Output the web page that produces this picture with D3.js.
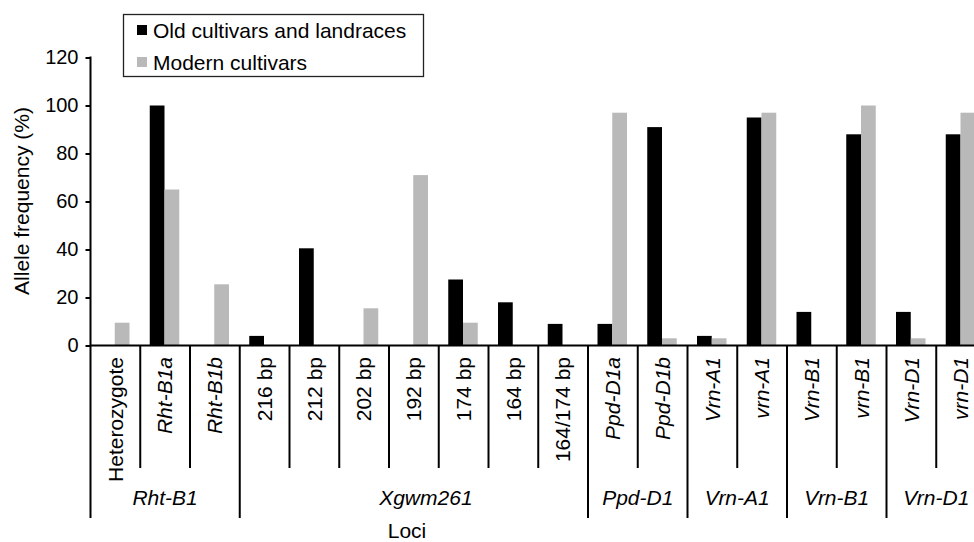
<!DOCTYPE html>
<html>
<head>
<meta charset="utf-8">
<script src="https://cdn.jsdelivr.net/npm/d3@7"></script>
<style>
  body { margin: 0; background: #fff; }
  svg { display: block; font-family: "Liberation Sans", Arial, sans-serif; }
</style>
</head>
<body>
<div id="chart-area"></div>
<script>
// Data
// ****
const categories = ["Heterozygote", "Rht-B1a", "Rht-B1b", "216 bp", "212 bp", "202 bp", "192 bp", "174 bp",
  "164 bp", "164/174 bp", "Ppd-D1a", "Ppd-D1b", "Vrn-A1", "vrn-A1", "Vrn-B1", "vrn-B1", "Vrn-D1", "vrn-D1"]
const italicCats = ["Rht-B1a", "Rht-B1b", "Ppd-D1a", "Ppd-D1b", "Vrn-A1", "vrn-A1", "Vrn-B1", "vrn-B1", "Vrn-D1", "vrn-D1"]
const seriesNames = ["Old cultivars and landraces", "Modern cultivars"]
const oldValues = [0, 100, 0, 4, 40.5, 0, 0, 27.5, 18, 9, 9, 91, 4, 95, 14, 88, 14, 88]
const modernValues = [9.5, 65, 25.5, 0, 0, 15.5, 71, 9.5, 0, 0, 97, 3, 3, 97, 0, 100, 3, 97]
const groupNames = ["Rht-B1", "Xgwm261", "Ppd-D1", "Vrn-A1", "Vrn-B1", "Vrn-D1"]
const groupSizes = [3, 7, 2, 2, 2, 2]
const yTicks = [0, 20, 40, 60, 80, 100, 120]

// Config
// ******
const width = 974, height = 542
const left = 90.5, base = 345.5, band = 49.75
const shortEnd = 468, longEnd = 518
const colors = ["#000000", "#b9b9b9"]

const svg = d3.select("#chart-area")
  .append("svg")
    .attr("width", width)
    .attr("height", height)

const x = d3.scaleBand().domain(categories).range([left, left + band * categories.length])
const xs = d3.scaleBand().domain(seriesNames).range([9.5, 39])
const y = d3.scaleLinear().domain([0, 120]).range([base, 57.5])

// Bars
// ****
const rows = categories.map((c, i) => ({cat: c, vals: [oldValues[i], modernValues[i]]}))
svg.append("g").selectAll("g").data(rows).enter()
  .append("g")
    .attr("transform", d => "translate(" + x(d.cat) + ",0)")
  .selectAll("rect").data(d => d.vals.map((v, j) => ({s: seriesNames[j], v: v, j: j})))
  .enter().append("rect")
    .attr("x", d => xs(d.s))
    .attr("y", d => y(d.v))
    .attr("width", xs.bandwidth())
    .attr("height", d => base - y(d.v))
    .attr("fill", d => colors[d.j])

// Left Axis
// *********
const leftAxis = d3.axisLeft(y).tickValues(yTicks).tickSize(5).tickPadding(7)
const ga = svg.append("g")
  .attr("transform", "translate(" + left + ",0)")
  .call(leftAxis)
ga.select(".domain").remove()
ga.selectAll("line").attr("stroke", "#000").attr("stroke-width", 2)
ga.selectAll("text")
  .attr("font-size", "20px")
  .attr("font-family", "Liberation Sans, Arial, sans-serif")
  .attr("fill", "#000")

svg.append("line")
  .attr("x1", left).attr("x2", left)
  .attr("y1", y(120) - 1).attr("y2", longEnd)
  .attr("stroke", "#000").attr("stroke-width", 2)

// Bottom baseline + separators
// ****************************
svg.append("line")
  .attr("x1", left).attr("x2", width)
  .attr("y1", base).attr("y2", base)
  .attr("stroke", "#000").attr("stroke-width", 2)

const groupStarts = groupSizes.map((s, i) => d3.sum(groupSizes.slice(0, i)))
svg.append("g").selectAll("line").data(categories.slice(1)).enter()
  .append("line")
    .attr("x1", d => x(d)).attr("x2", d => x(d))
    .attr("y1", base)
    .attr("y2", d => groupStarts.includes(categories.indexOf(d)) ? longEnd : shortEnd)
    .attr("stroke", "#000").attr("stroke-width", 2)

// Category labels
svg.append("g").selectAll("text").data(categories).enter()
  .append("text")
    .attr("transform", "rotate(-90)")
    .attr("x", -357)
    .attr("y", d => x(d) + x.bandwidth() / 2)
    .attr("dy", "0.35em")
    .attr("text-anchor", "end")
    .attr("font-size", "21px")
    .attr("font-style", d => italicCats.includes(d) ? "italic" : "normal")
    .text(d => d)

// Group labels
svg.append("g").selectAll("text").data(groupNames).enter()
  .append("text")
    .attr("x", (d, i) => {
      const a = x(categories[groupStarts[i]])
      const b = a + band * groupSizes[i]
      return (a + b) / 2 + (d === "Xgwm261" ? 12 : 0)   // label sits a bit right of centre in the original
    })
    .attr("y", 505)
    .attr("text-anchor", "middle")
    .attr("font-size", "21px")
    .attr("font-style", "italic")
    .text(d => d)

// Axis titles
// ***********
svg.append("text")
  .attr("x", 407)
  .attr("y", 538)
  .attr("text-anchor", "middle")
  .attr("font-size", "21px")
  .text("Loci")

svg.append("text")
  .attr("transform", "rotate(-90)")
  .attr("x", -201)
  .attr("y", 29)
  .attr("text-anchor", "middle")
  .attr("font-size", "21px")
  .text("Allele frequency (%)")

// Legend
// ******
const lg = svg.append("g")
lg.append("rect")
  .attr("x", 123.5).attr("y", 14.5)
  .attr("width", 300).attr("height", 62)
  .attr("fill", "#fff").attr("stroke", "#222").attr("stroke-width", 1.3)

const items = lg.selectAll("g").data(seriesNames).enter()
  .append("g")
    .attr("transform", (d, i) => "translate(137," + (30 + i * 32) + ")")
items.append("rect")
  .attr("x", 0).attr("y", -5)
  .attr("width", 10).attr("height", 10)
  .attr("fill", (d, i) => colors[i])
items.append("text")
  .attr("x", 16)
  .attr("dy", "0.36em")
  .attr("font-size", "21px")
  .text(d => d)
</script>
</body>
</html>
